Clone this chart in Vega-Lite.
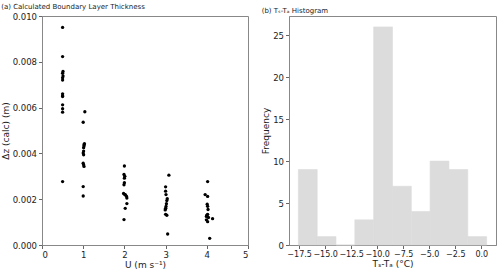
{
  "$schema": "https://vega.github.io/schema/vega-lite/v6.json",
  "background": "white",
  "padding": {"left": 0, "top": 2, "right": 2, "bottom": 2},
  "bounds": "flush",
  "spacing": 41,
  "config": {
    "font": "DejaVu Sans",
    "view": {"stroke": "#888", "strokeWidth": 1},
    "axis": {
      "grid": false,
      "domainColor": "#888",
      "tickColor": "#666",
      "tickSize": 3.5,
      "labelFontSize": 8.5,
      "titleFontSize": 9,
      "labelColor": "#222",
      "titleColor": "#222",
      "titleFontWeight": "normal",
      "labelPadding": 2,
      "labelOverlap": false
    },
    "title": {"fontSize": 7, "fontWeight": "normal", "anchor": "start", "offset": 2, "color": "#222"}
  },
  "datasets": {
    "pts": [
      {"U": 0.5, "dz": 0.0095}, {"U": 0.5, "dz": 0.00823}, {"U": 0.51, "dz": 0.00758}, {"U": 0.5, "dz": 0.0075},
      {"U": 0.51, "dz": 0.00738}, {"U": 0.5, "dz": 0.0073}, {"U": 0.5, "dz": 0.0072}, {"U": 0.5, "dz": 0.0066},
      {"U": 0.5, "dz": 0.00652}, {"U": 0.5, "dz": 0.00648}, {"U": 0.5, "dz": 0.00612}, {"U": 0.5, "dz": 0.00595},
      {"U": 0.5, "dz": 0.0058}, {"U": 0.5, "dz": 0.00277},
      {"U": 1.04, "dz": 0.00582}, {"U": 1.0, "dz": 0.00536}, {"U": 1.03, "dz": 0.00442}, {"U": 1.02, "dz": 0.00438},
      {"U": 1.02, "dz": 0.00432}, {"U": 1.01, "dz": 0.0041}, {"U": 1.0, "dz": 0.00402}, {"U": 1.01, "dz": 0.00394},
      {"U": 1.0, "dz": 0.00357}, {"U": 1.01, "dz": 0.0035}, {"U": 1.02, "dz": 0.00343}, {"U": 1.0, "dz": 0.00255},
      {"U": 1.0, "dz": 0.00214}, {"U": 1.01, "dz": 0.00425},
      {"U": 2.0, "dz": 0.00345}, {"U": 1.99, "dz": 0.00308}, {"U": 2.01, "dz": 0.003}, {"U": 2.0, "dz": 0.00292},
      {"U": 2.0, "dz": 0.00272}, {"U": 1.99, "dz": 0.00263}, {"U": 1.98, "dz": 0.00225}, {"U": 2.02, "dz": 0.0022},
      {"U": 2.05, "dz": 0.00213}, {"U": 2.06, "dz": 0.00205}, {"U": 2.06, "dz": 0.00181}, {"U": 2.02, "dz": 0.0016},
      {"U": 1.99, "dz": 0.00111}, {"U": 2.01, "dz": 0.0022},
      {"U": 3.08, "dz": 0.00305}, {"U": 3.0, "dz": 0.00254}, {"U": 3.0, "dz": 0.00235}, {"U": 3.01, "dz": 0.0022},
      {"U": 3.04, "dz": 0.00202}, {"U": 3.03, "dz": 0.00194}, {"U": 3.02, "dz": 0.0018}, {"U": 3.01, "dz": 0.00168},
      {"U": 3.0, "dz": 0.0016}, {"U": 2.99, "dz": 0.00153}, {"U": 3.0, "dz": 0.00134}, {"U": 3.03, "dz": 0.0013},
      {"U": 3.05, "dz": 0.00048}, {"U": 3.0, "dz": 0.00158},
      {"U": 4.02, "dz": 0.00277}, {"U": 3.96, "dz": 0.0022}, {"U": 4.02, "dz": 0.00212}, {"U": 4.01, "dz": 0.00178},
      {"U": 4.02, "dz": 0.00169}, {"U": 4.03, "dz": 0.00155}, {"U": 4.02, "dz": 0.00134}, {"U": 3.99, "dz": 0.00125},
      {"U": 4.14, "dz": 0.00115}, {"U": 3.99, "dz": 0.0011}, {"U": 4.02, "dz": 0.00102}, {"U": 4.07, "dz": 0.00029},
      {"U": 4.0, "dz": 0.0013}, {"U": 4.04, "dz": 0.0012}
    ],
    "hist": [
      {"start": -17.57, "end": -15.76, "count": 9},
      {"start": -15.76, "end": -13.96, "count": 1},
      {"start": -13.96, "end": -12.15, "count": 0},
      {"start": -12.15, "end": -10.34, "count": 3},
      {"start": -10.34, "end": -8.53, "count": 26},
      {"start": -8.53, "end": -6.72, "count": 7},
      {"start": -6.72, "end": -4.92, "count": 4},
      {"start": -4.92, "end": -3.11, "count": 10},
      {"start": -3.11, "end": -1.30, "count": 9},
      {"start": -1.30, "end": 0.51, "count": 1}
    ]
  },
  "hconcat": [
    {
      "width": 206,
      "height": 229,
      "title": "(a) Calculated Boundary Layer Thickness",
      "data": {"name": "pts"},
      "mark": {"type": "circle", "color": "black", "opacity": 1, "size": 11},
      "encoding": {
        "x": {
          "field": "U", "type": "quantitative",
          "scale": {"domain": [0, 5], "nice": false, "zero": false},
          "axis": {"values": [0, 1, 2, 3, 4, 5], "format": "d", "title": "U (m s⁻¹)", "titlePadding": 1}
        },
        "y": {
          "field": "dz", "type": "quantitative",
          "scale": {"domain": [0, 0.01], "nice": false},
          "axis": {"values": [0, 0.002, 0.004, 0.006, 0.008, 0.01], "format": ".3f", "title": "Δz (calc) (m)", "titlePadding": 2}
        }
      }
    },
    {
      "width": 207,
      "height": 229,
      "title": "(b) Tₛ-Tₐ Histogram",
      "data": {"name": "hist"},
      "mark": {"type": "bar", "color": "#dcdcdc", "opacity": 1, "stroke": "#dcdcdc", "strokeWidth": 0.6},
      "encoding": {
        "x": {
          "field": "start", "type": "quantitative",
          "scale": {"domain": [-18.47, 1.41], "nice": false, "zero": false},
          "axis": {"values": [-17.5, -15, -12.5, -10, -7.5, -5, -2.5, 0], "format": ".1f", "title": "Tₛ-Tₐ (°C)", "titlePadding": 1, "labelFontSize": 8}
        },
        "x2": {"field": "end"},
        "y": {
          "field": "count", "type": "quantitative",
          "scale": {"domain": [0, 27.3], "nice": false},
          "axis": {"values": [0, 5, 10, 15, 20, 25], "title": "Frequency", "titlePadding": 2}
        },
        "y2": {"datum": 0}
      }
    }
  ]
}
